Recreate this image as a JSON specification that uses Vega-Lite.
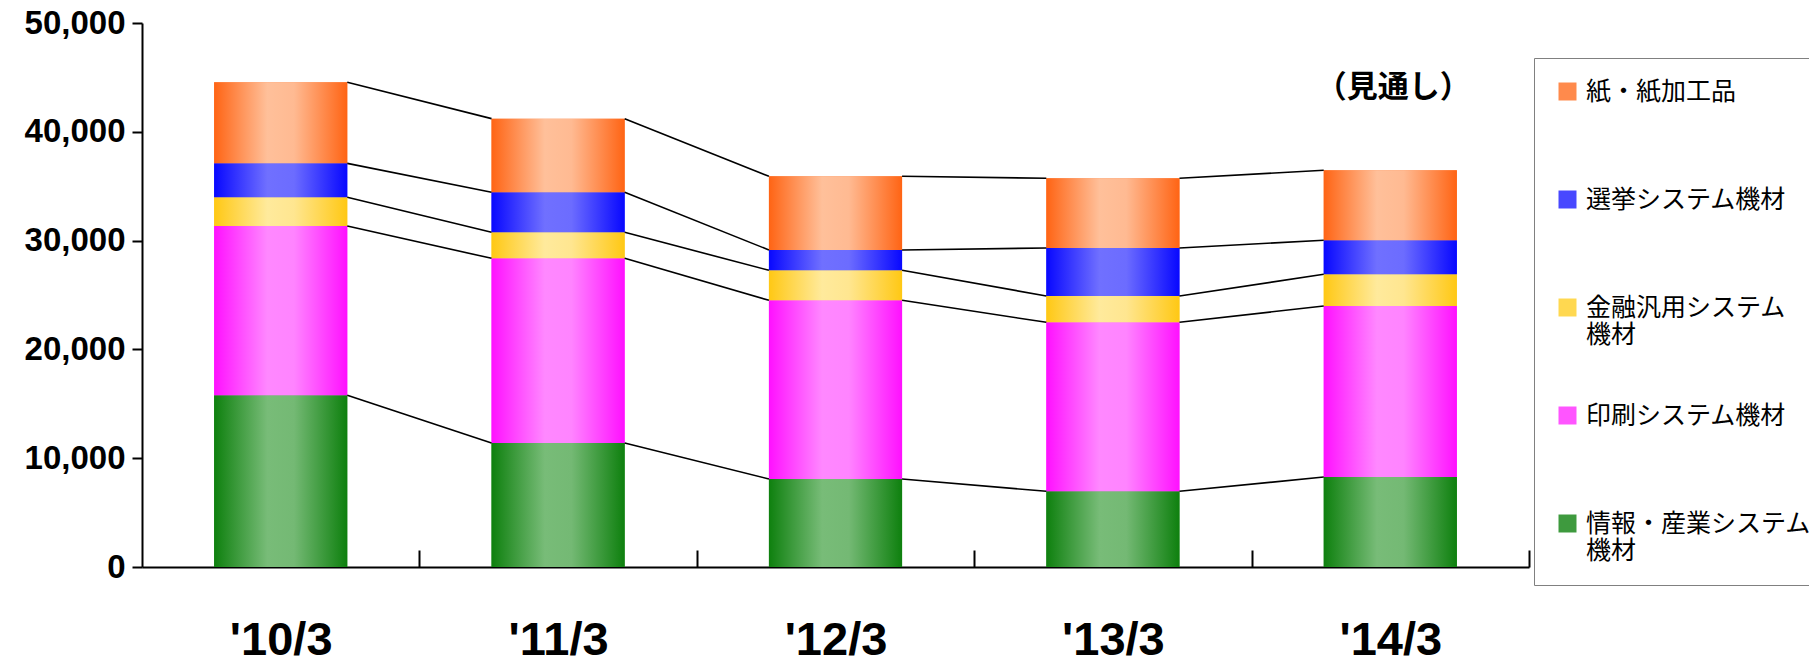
{
  "$schema": "https://vega.github.io/schema/vega-lite/v6.json",
  "width": 1387,
  "height": 544,
  "autosize": {"type": "none"},
  "padding": {"left": 142, "top": 23, "right": 280, "bottom": 91},
  "background": "white",
  "config": {
    "view": {"stroke": null},
    "axis": {"domainColor": "black", "domainWidth": 2, "tickColor": "black", "tickWidth": 2, "labelColor": "black", "labelFont": "Liberation Sans", "labelFontWeight": "bold", "grid": false}
  },
  "data": {"values": [
    {"period": "'10/3", "series": "情報・産業システム機材", "ord": 1, "value": 15780},
    {"period": "'10/3", "series": "印刷システム機材", "ord": 2, "value": 15560},
    {"period": "'10/3", "series": "金融汎用システム機材", "ord": 3, "value": 2640},
    {"period": "'10/3", "series": "選挙システム機材", "ord": 4, "value": 3120},
    {"period": "'10/3", "series": "紙・紙加工品", "ord": 5, "value": 7450},
    {"period": "'11/3", "series": "情報・産業システム機材", "ord": 1, "value": 11400},
    {"period": "'11/3", "series": "印刷システム機材", "ord": 2, "value": 16970},
    {"period": "'11/3", "series": "金融汎用システム機材", "ord": 3, "value": 2390},
    {"period": "'11/3", "series": "選挙システム機材", "ord": 4, "value": 3680},
    {"period": "'11/3", "series": "紙・紙加工品", "ord": 5, "value": 6770},
    {"period": "'12/3", "series": "情報・産業システム機材", "ord": 1, "value": 8090},
    {"period": "'12/3", "series": "印刷システム機材", "ord": 2, "value": 16420},
    {"period": "'12/3", "series": "金融汎用システム機材", "ord": 3, "value": 2760},
    {"period": "'12/3", "series": "選挙システム機材", "ord": 4, "value": 1870},
    {"period": "'12/3", "series": "紙・紙加工品", "ord": 5, "value": 6770},
    {"period": "'13/3", "series": "情報・産業システム機材", "ord": 1, "value": 6960},
    {"period": "'13/3", "series": "印刷システム機材", "ord": 2, "value": 15530},
    {"period": "'13/3", "series": "金融汎用システム機材", "ord": 3, "value": 2420},
    {"period": "'13/3", "series": "選挙システム機材", "ord": 4, "value": 4410},
    {"period": "'13/3", "series": "紙・紙加工品", "ord": 5, "value": 6410},
    {"period": "'14/3", "series": "情報・産業システム機材", "ord": 1, "value": 8270},
    {"period": "'14/3", "series": "印刷システム機材", "ord": 2, "value": 15720},
    {"period": "'14/3", "series": "金融汎用システム機材", "ord": 3, "value": 2910},
    {"period": "'14/3", "series": "選挙システム機材", "ord": 4, "value": 3130},
    {"period": "'14/3", "series": "紙・紙加工品", "ord": 5, "value": 6430}
  ]},
  "transform": [
    {"stack": "value", "groupby": ["period"], "sort": [{"field": "ord", "order": "ascending"}], "as": ["lo", "hi"]},
    {"window": [{"op": "lead", "field": "hi", "as": "hi_next"}, {"op": "lead", "field": "period", "as": "period_next"}],
     "groupby": ["series"], "sort": [{"field": "period", "order": "ascending"}]}
  ],
  "encoding": {
    "x": {
      "field": "period", "type": "nominal", "sort": null,
      "scale": {"paddingInner": 0.52, "paddingOuter": 0.26},
      "axis": {"title": null, "labelAngle": 0, "tickSize": -17, "tickOffset": 138.7, "labelOffset": -138.7, "labelFontSize": 47, "labelPadding": 67}
    },
    "y": {
      "field": "hi", "type": "quantitative",
      "scale": {"domain": [0, 50000]},
      "axis": {"title": null, "values": [0, 10000, 20000, 30000, 40000, 50000], "format": ",d", "tickSize": 10, "labelFontSize": 33, "labelPadding": 7}
    }
  },
  "layer": [
    {
      "mark": {"type": "bar"},
      "encoding": {
        "y2": {"field": "lo"},
        "color": {
          "field": "series", "type": "nominal",
          "scale": {
            "domain": ["紙・紙加工品", "選挙システム機材", "金融汎用システム機材", "印刷システム機材", "情報・産業システム機材"],
            "range": ["#FF8A4C", "#4848FF", "#FFD850", "#FF55FF", "#3E9A3E"]
          },
          "legend": {
            "title": null, "orient": "none", "legendX": 1392, "legendY": 35,
            "direction": "vertical", "symbolType": "square", "symbolSize": 324,
            "symbolStrokeWidth": 0,
            "labelFont": "Noto Sans CJK JP", "labelFontSize": 25, "labelColor": "black",
            "labelLimit": 400, "labelOffset": 6,
            "labelExpr": "datum.label == '金融汎用システム機材' ? ['金融汎用システム', '機材'] : datum.label == '情報・産業システム機材' ? ['情報・産業システム', '機材'] : [datum.label, ' ']",
            "rowPadding": 55, "padding": 21,
            "strokeColor": "#808080", "fillColor": "white"
          }
        }
      }
    },
    {
      "transform": [{"filter": "datum.ord == 1"}],
      "mark": {"type": "bar", "fill": {"gradient": "linear", "x1": 0, "y1": 0, "x2": 1, "y2": 0,
        "stops": [{"offset": 0, "color": "#0E800E"}, {"offset": 0.4, "color": "#78BC78"}, {"offset": 0.6, "color": "#74B974"}, {"offset": 1, "color": "#0E800E"}]}},
      "encoding": {"y2": {"field": "lo"}}
    },
    {
      "transform": [{"filter": "datum.ord == 2"}],
      "mark": {"type": "bar", "fill": {"gradient": "linear", "x1": 0, "y1": 0, "x2": 1, "y2": 0,
        "stops": [{"offset": 0, "color": "#FF10FF"}, {"offset": 0.4, "color": "#FF88FF"}, {"offset": 0.6, "color": "#FF84FF"}, {"offset": 1, "color": "#FF10FF"}]}},
      "encoding": {"y2": {"field": "lo"}}
    },
    {
      "transform": [{"filter": "datum.ord == 3"}],
      "mark": {"type": "bar", "fill": {"gradient": "linear", "x1": 0, "y1": 0, "x2": 1, "y2": 0,
        "stops": [{"offset": 0, "color": "#FFC814"}, {"offset": 0.4, "color": "#FFEA9C"}, {"offset": 0.6, "color": "#FFE690"}, {"offset": 1, "color": "#FFC814"}]}},
      "encoding": {"y2": {"field": "lo"}}
    },
    {
      "transform": [{"filter": "datum.ord == 4"}],
      "mark": {"type": "bar", "fill": {"gradient": "linear", "x1": 0, "y1": 0, "x2": 1, "y2": 0,
        "stops": [{"offset": 0, "color": "#0808FF"}, {"offset": 0.4, "color": "#7070FF"}, {"offset": 0.6, "color": "#6C6CFF"}, {"offset": 1, "color": "#0808FF"}]}},
      "encoding": {"y2": {"field": "lo"}}
    },
    {
      "transform": [{"filter": "datum.ord == 5"}],
      "mark": {"type": "bar", "fill": {"gradient": "linear", "x1": 0, "y1": 0, "x2": 1, "y2": 0,
        "stops": [{"offset": 0, "color": "#FF6414"}, {"offset": 0.4, "color": "#FFC09A"}, {"offset": 0.6, "color": "#FFBA92"}, {"offset": 1, "color": "#FF6414"}]}},
      "encoding": {"y2": {"field": "lo"}}
    },
    {
      "transform": [{"filter": "datum.period_next != null"}],
      "mark": {"type": "rule", "color": "black", "strokeWidth": 1.6},
      "encoding": {
        "x": {
          "field": "period", "type": "nominal", "sort": null, "bandPosition": 1,
          "scale": {"paddingInner": 0.52, "paddingOuter": 0.26},
          "axis": {"title": null, "labelAngle": 0, "tickSize": -17, "tickOffset": 138.7, "labelOffset": -138.7, "labelFontSize": 47, "labelPadding": 67}
        },
        "x2": {"field": "period_next", "bandPosition": 0},
        "y2": {"field": "hi_next"}
      }
    },
    {
      "transform": [{"filter": "datum.period == \"'14/3\" && datum.ord == 5"}],
      "mark": {"type": "text", "text": "（見通し）", "font": "Noto Sans CJK JP", "fontWeight": "bold", "fontSize": 31, "color": "black", "baseline": "middle", "align": "center", "dy": -82, "dx": 3}
    }
  ]
}
